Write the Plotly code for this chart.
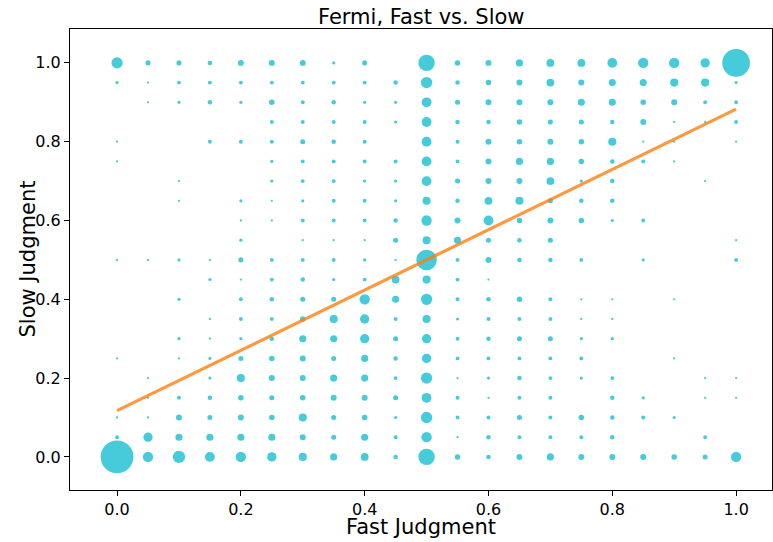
import numpy as np
import plotly.graph_objects as go

# Grid of judgment values (0.00 .. 1.00 in steps of 0.05)
fast_values = [round(0.05 * i, 2) for i in range(21)]
slow_values = [round(0.05 * j, 2) for j in range(21)]

# counts[j][i] : number of responses with slow = slow_values[j], fast = fast_values[i]
counts = [
    [212, 21, 30, 19, 21, 17, 13, 10, 12, 4, 53, 6, 4, 7, 10, 7, 7, 7, 6, 5, 21],   # 0.00
    [3, 17, 10, 10, 10, 10, 7, 5, 10, 3, 21, 1, 4, 3, 3, 3, 4, 0, 0, 3, 0],          # 0.05
    [1, 1, 7, 5, 7, 6, 13, 5, 6, 2, 25, 3, 3, 5, 3, 6, 4, 3, 2, 0, 0],               # 0.10
    [0, 1, 3, 4, 6, 5, 6, 7, 7, 5, 19, 3, 1, 3, 3, 0, 4, 2, 0, 1, 1],                # 0.15
    [0, 1, 0, 2, 13, 7, 7, 10, 10, 3, 25, 1, 2, 4, 3, 2, 3, 0, 0, 1, 1],             # 0.20
    [1, 0, 1, 2, 5, 6, 7, 5, 10, 4, 17, 3, 3, 3, 3, 3, 0, 0, 1, 0, 0],               # 0.25
    [0, 0, 2, 1, 2, 4, 10, 10, 17, 5, 17, 3, 4, 5, 5, 2, 2, 0, 0, 0, 0],             # 0.30
    [0, 0, 0, 1, 3, 3, 6, 13, 17, 3, 13, 2, 3, 3, 3, 1, 1, 0, 0, 0, 0],              # 0.35
    [0, 0, 2, 0, 3, 4, 5, 5, 21, 10, 25, 3, 4, 6, 3, 1, 1, 0, 1, 0, 0],              # 0.40
    [0, 0, 0, 2, 1, 3, 4, 2, 3, 12, 13, 3, 1, 0, 0, 0, 0, 0, 0, 0, 0],               # 0.45
    [1, 1, 2, 1, 5, 3, 3, 3, 2, 1, 83, 3, 7, 4, 4, 3, 0, 2, 0, 0, 3],                # 0.50
    [0, 0, 0, 0, 2, 0, 1, 1, 1, 5, 13, 10, 5, 4, 5, 0, 0, 0, 0, 0, 1],               # 0.55
    [0, 0, 0, 0, 1, 1, 3, 3, 3, 4, 21, 7, 19, 6, 7, 6, 2, 3, 0, 0, 0],               # 0.60
    [0, 0, 1, 0, 2, 1, 2, 3, 3, 2, 13, 4, 12, 13, 5, 4, 4, 0, 0, 0, 0],              # 0.65
    [0, 0, 1, 0, 0, 2, 3, 3, 2, 2, 19, 5, 7, 7, 12, 2, 4, 0, 0, 1, 0],               # 0.70
    [1, 0, 0, 0, 0, 2, 3, 3, 3, 3, 19, 3, 7, 10, 10, 6, 4, 3, 1, 0, 0],              # 0.75
    [1, 0, 0, 3, 3, 3, 5, 4, 3, 0, 19, 3, 7, 6, 7, 6, 13, 1, 1, 0, 1],               # 0.80
    [0, 0, 0, 0, 0, 3, 3, 3, 3, 2, 19, 4, 4, 6, 5, 5, 4, 7, 1, 1, 3],                # 0.85
    [0, 1, 2, 4, 2, 6, 3, 4, 2, 2, 19, 5, 7, 7, 7, 10, 10, 6, 7, 3, 3],              # 0.90
    [2, 1, 3, 3, 3, 3, 3, 3, 3, 4, 25, 4, 6, 7, 12, 7, 10, 10, 13, 13, 2],           # 0.95
    [25, 5, 5, 4, 7, 7, 7, 2, 5, 0, 53, 6, 7, 10, 12, 12, 19, 21, 21, 17, 151],      # 1.00
]

# Linear fit of slow on fast
fit_intercept = 0.1175
fit_slope = 0.765
fit_x = [0.0, 1.0]

tick_vals = [0.0, 0.2, 0.4, 0.6, 0.8, 1.0]
tick_text = ["0.0", "0.2", "0.4", "0.6", "0.8", "1.0"]

xs, ys, ns = [], [], []
for j, yv in enumerate(slow_values):
    for i, xv in enumerate(fast_values):
        n = counts[j][i]
        if n > 0:
            xs.append(xv)
            ys.append(yv)
            ns.append(n)

ns = np.array(ns, dtype=float)
sizes = 2.25 * np.sqrt(ns)

fig = go.Figure()
fig.add_trace(go.Scatter(
    x=xs, y=ys, mode="markers",
    marker=dict(size=sizes, sizemode="diameter", color="#17becf", opacity=0.8,
                line=dict(width=0)),
    showlegend=False, hoverinfo="skip",
))
fig.add_trace(go.Scatter(
    x=fit_x, y=[fit_intercept + fit_slope * v for v in fit_x], mode="lines",
    line=dict(color="#ff7f0e", width=3.2), opacity=0.8,
    showlegend=False, hoverinfo="skip",
))

font_family = "DejaVu Sans"
axis_common = dict(
    showgrid=False, zeroline=False, showline=True, linecolor="black", linewidth=1,
    mirror=True, ticks="outside", ticklen=5, tickwidth=1, tickcolor="black",
    tickfont=dict(family=font_family, size=16, color="black"), automargin=False,
)

fig.update_layout(
    width=773, height=542,
    margin=dict(l=70, r=1, t=29, b=52),
    paper_bgcolor="white", plot_bgcolor="white",
    xaxis=dict(range=[-0.076, 1.058], tickvals=tick_vals, ticktext=tick_text, **axis_common),
    yaxis=dict(range=[-0.084, 1.086], tickvals=tick_vals, ticktext=tick_text, **axis_common),
    annotations=[
        dict(text="Fermi, Fast vs. Slow", xref="paper", yref="paper", x=0.5, y=1.0,
             yshift=12, xanchor="center", yanchor="middle", showarrow=False,
             font=dict(family=font_family, size=21, color="black")),
        dict(text="Fast Judgment", xref="paper", yref="paper", x=0.5, y=0.0,
             yshift=-37, xanchor="center", yanchor="middle", showarrow=False,
             borderpad=0, font=dict(family=font_family, size=21, color="black")),
        dict(text="Slow Judgment", xref="paper", yref="paper", x=0.0, y=0.5,
             xshift=-43, xanchor="center", yanchor="middle", showarrow=False, textangle=-90,
             font=dict(family=font_family, size=21, color="black")),
    ],
)

fig.write_html("out.html", config={"displayModeBar": False},
               post_script="document.body.style.margin='0';document.body.style.padding='0';")
